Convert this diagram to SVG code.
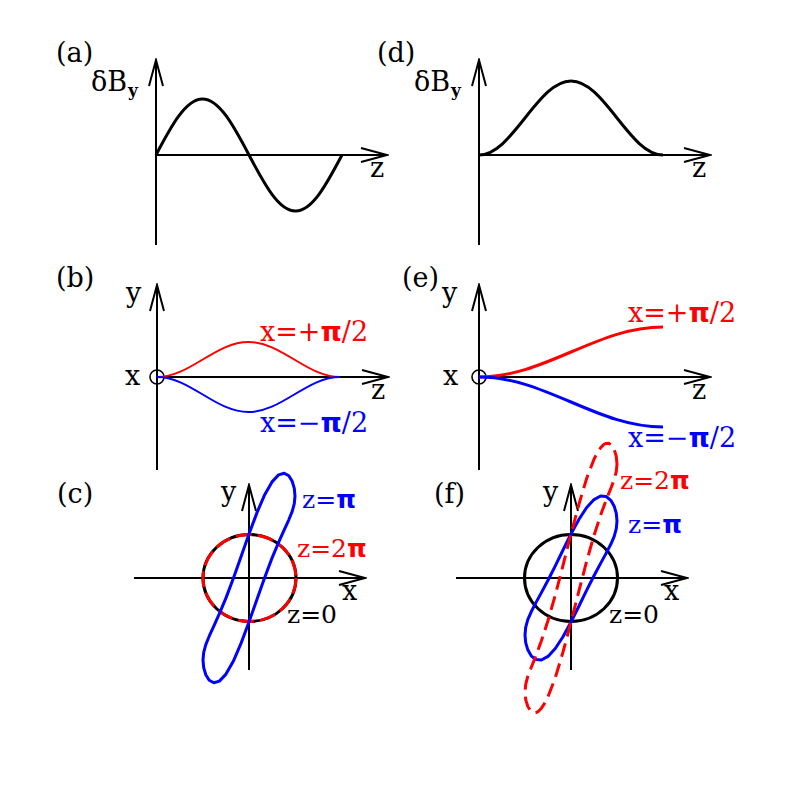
<svg xmlns="http://www.w3.org/2000/svg" width="797" height="797" viewBox="0 0 797 797">
<style>
text{font-family:"DejaVu Serif","Liberation Serif",serif;font-size:27px;fill:#000}
.sub{font-size:17px;font-weight:bold}
.zl{font-size:25px}
.pi{font-family:"DejaVu Sans","Liberation Sans",sans-serif;font-weight:bold}
.ax{stroke:#000;stroke-width:2;fill:none}
.k{stroke:#000;stroke-width:3;fill:none}
.r{stroke:#f00;fill:none}
.b{stroke:#00f;fill:none}
.tr{fill:#f00}
.tb{fill:#00f}
</style>
<defs>
<marker id="arr" viewBox="-28 -9 30 18" refX="0" refY="0" markerWidth="30" markerHeight="18" markerUnits="userSpaceOnUse" orient="auto">
<path d="M-26,-7 L0,0 L-26,7" fill="none" stroke="#000" stroke-width="2"/>
</marker>
</defs>
<rect width="797" height="797" fill="#fff"/>

<g id="connectors">
<line class="ax" x1="156" y1="245" x2="156" y2="60" marker-end="url(#arr)"/>
<line class="ax" x1="156" y1="155" x2="387" y2="155" marker-end="url(#arr)"/>
<line class="ax" x1="479" y1="245" x2="479" y2="60" marker-end="url(#arr)"/>
<line class="ax" x1="479" y1="155" x2="710" y2="155" marker-end="url(#arr)"/>
<line class="ax" x1="157" y1="470" x2="157" y2="285" marker-end="url(#arr)"/>
<line class="ax" x1="157" y1="377" x2="388" y2="377" marker-end="url(#arr)"/>
<line class="ax" x1="479" y1="470" x2="479" y2="285" marker-end="url(#arr)"/>
<line class="ax" x1="479" y1="377" x2="710" y2="377" marker-end="url(#arr)"/>
<line class="ax" x1="249" y1="670" x2="249" y2="485" marker-end="url(#arr)"/>
<line class="ax" x1="134" y1="578" x2="365" y2="578" marker-end="url(#arr)"/>
<line class="ax" x1="571" y1="670" x2="571" y2="485" marker-end="url(#arr)"/>
<line class="ax" x1="456" y1="578" x2="687" y2="578" marker-end="url(#arr)"/>
</g>

<g id="panel-a">
<text x="56" y="62">(a)</text>
<text x="91" y="91">δB<tspan class="sub" dx="1" dy="5">y</tspan></text>
<text x="370" y="177">z</text>
<path class="k" d="M156,155 C171.5,125.6 185.8,99 202.5,99 C219.2,99 233.5,125.6 249,155 C264.5,184.4 278.8,211 295.5,211 C312.2,211 326.5,184.4 342,155"/>
</g>

<g id="panel-d">
<text x="377" y="62">(d)</text>
<text x="414" y="91">δB<tspan class="sub" dx="1" dy="5">y</tspan></text>
<text x="692" y="177">z</text>
<path class="k" d="M479,155 C495.6,155 509.6,137.4 525,118 C540.4,98.6 554.4,81 571,81 C587.6,81 601.6,98.6 617,118 C632.4,137.4 646.4,155 663,155"/>
</g>

<g id="panel-b">
<text x="56" y="287">(b)</text>
<text x="126" y="302">y</text>
<text x="125" y="385">x</text>
<text x="371" y="399">z</text>
<circle cx="157" cy="377" r="7" fill="none" stroke="#000" stroke-width="1.6"/>
<path class="r" stroke-width="2" d="M157,377 C173.5,377 187.5,368.7 202.75,359.5 C218,350.3 232,342 248.5,342 C265,342 279,350.3 294.25,359.5 C309.5,368.7 323.5,377 340,377"/>
<path class="b" stroke-width="2" d="M157,377 C173.5,377 187.5,385.3 202.75,394.5 C218,403.7 232,412 248.5,412 C265,412 279,403.7 294.25,394.5 C309.5,385.3 323.5,377 340,377"/>
<text class="tr" x="260" y="341">x=+<tspan class="pi">π</tspan>/2</text>
<text class="tb" x="260" y="432">x=−<tspan class="pi">π</tspan>/2</text>
</g>

<g id="panel-e">
<text x="402" y="287">(e)</text>
<text x="442" y="302">y</text>
<text x="443" y="385">x</text>
<text x="692" y="399">z</text>
<circle cx="479" cy="377" r="7" fill="none" stroke="#000" stroke-width="1.6"/>
<path class="r" stroke-width="3" d="M479,377 C512.1,377 540.2,365.1 571,352 C601.8,338.9 629.9,327 663,327"/>
<path class="b" stroke-width="3" d="M479,377 C512.1,377 540.2,388.9 571,402 C601.8,415.1 629.9,427 663,427"/>
<text class="tr" x="628" y="322">x=+<tspan class="pi">π</tspan>/2</text>
<text class="tb" x="628" y="447">x=−<tspan class="pi">π</tspan>/2</text>
</g>

<g id="panel-c">
<text x="57" y="503">(c)</text>
<text x="221" y="501">y</text>
<text x="342" y="600">x</text>
<ellipse cx="249.5" cy="578" rx="46.5" ry="43.5" fill="none" stroke="#000" stroke-width="3"/>
<ellipse cx="249.5" cy="578" rx="46.5" ry="43.5" class="r" stroke-width="3" stroke-dasharray="16 6"/>
<polygon class="b" stroke-width="3" stroke-linejoin="round" points="295,496 294.3,488.4 292.2,481.3 288.8,475.8 284.2,473.2 278.6,474.9 272,481.9 264.7,494.7 257,512.6 249,534 241,556.8 233.3,578.6 226,597.9 219.4,613.7 213.8,626.2 209.2,636.2 205.8,644.6 203.7,652.3 203,660 203.7,667.6 205.8,674.7 209.2,680.2 213.8,682.8 219.4,681.1 226,674.1 233.3,661.3 241,643.4 249,622 257,599.2 264.7,577.4 272,558.1 278.6,542.3 284.2,529.8 288.8,519.8 292.2,511.4 294.3,503.7"/>
<text class="tb zl" x="302" y="508">z=<tspan class="pi">π</tspan></text>
<text class="tr zl" x="297" y="557">z=2<tspan class="pi">π</tspan></text>
<text class="zl" x="287" y="623">z=0</text>
</g>

<g id="panel-f">
<text x="434" y="503">(f)</text>
<text x="543" y="501">y</text>
<text x="664" y="600">x</text>
<ellipse cx="571" cy="578" rx="46.5" ry="43.5" fill="none" stroke="#000" stroke-width="3"/>
<polygon class="b" stroke-width="3" stroke-linejoin="round" points="617,521 616.3,513.4 614.2,506.2 610.8,500.3 606.2,496.5 600.6,496 594,499.6 586.7,507.5 579,519.3 571,534 563,550 555.3,565.8 548,580.2 541.4,592.6 535.8,602.9 531.2,611.8 527.8,619.7 525.7,627.3 525,635 525.7,642.6 527.8,649.8 531.2,655.8 535.8,659.5 541.4,660 548,656.4 555.3,648.5 563,636.7 571,622 579,606 586.7,590.2 594,575.8 600.6,563.4 606.2,553.1 610.8,544.3 614.2,536.3 616.3,528.7"/>
<polygon class="r" stroke-width="3" stroke-dasharray="14 7" stroke-linejoin="round" points="617,464 616.3,456.4 614.2,449.5 610.8,444.5 608.7,443.3 606.2,443.4 603.5,444.7 600.6,447.8 597.4,452.6 594,459.3 586.7,478.3 579,504 571,534 563,565.4 555.3,595 548,620.5 541.4,640.8 535.8,656.1 531.2,667.5 527.8,676.4 525.7,684.3 525,692 525.7,699.6 527.8,706.5 531.2,711.5 533.3,712.7 535.8,712.6 538.5,711.3 541.4,708.2 544.6,703.4 548,696.7 555.3,677.7 563,652 571,622 579,590.6 586.7,561 594,535.5 600.6,515.2 606.2,499.9 610.8,488.5 614.2,479.6 616.3,471.7"/>
<text class="tr zl" x="620" y="489">z=2<tspan class="pi">π</tspan></text>
<text class="tb zl" x="628" y="533">z=<tspan class="pi">π</tspan></text>
<text class="zl" x="609" y="623">z=0</text>
</g>
</svg>
